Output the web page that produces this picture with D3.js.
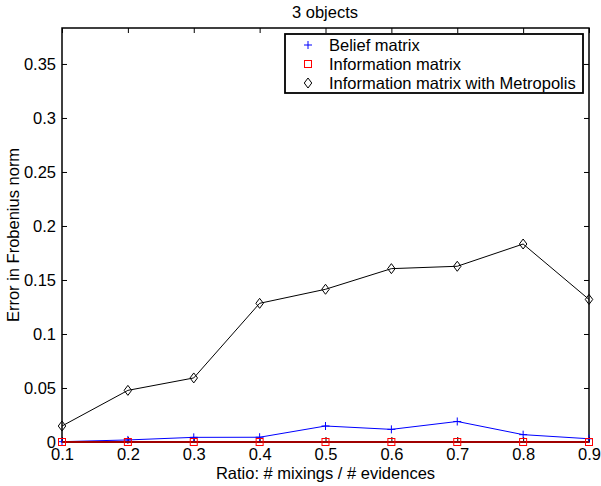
<!DOCTYPE html>
<html><head><meta charset="utf-8">
<script src="https://cdn.jsdelivr.net/npm/d3@7"></script>
<style>body{margin:0;background:#fff}svg{display:block}text{font-family:"Liberation Sans",Arial,Helvetica,sans-serif}</style>
</head><body>
<svg id="c" width="601" height="486"></svg>
<script>
const ratios = [0.1,0.2,0.3,0.4,0.5,0.6,0.7,0.8,0.9];
const beliefMatrix = [0.0003,0.0019,0.0043,0.0044,0.0148,0.0117,0.019,0.0068,0.003];
const informationMatrix = [0,0,0,0,0,0,0,0,0];
const informationMetropolis = [0.0148,0.0478,0.0593,0.1284,0.1414,0.1605,0.1627,0.1833,0.132];
const xTicks = [0.1,0.2,0.3,0.4,0.5,0.6,0.7,0.8,0.9];
const yTicks = [0,0.05,0.1,0.15,0.2,0.25,0.3,0.35];
const legendLabels = ["Belief matrix","Information matrix","Information matrix with Metropolis"];
const title = "3 objects", xLabel = "Ratio: # mixings / # evidences", yLabel = "Error in Frobenius norm";

const svg = d3.select("#c");
const L=62,R=589,T=28,B=442, FS="16.5px";
const x = d3.scaleLinear().domain([0.1,0.9]).range([L,R]);
const y = d3.scaleLinear().domain([0,0.3833]).range([B,T]);

// ticks inward on all sides
const g = svg.append("g");
g.append("g").attr("transform",`translate(0,${B})`).call(d3.axisBottom(x).tickValues(xTicks).tickSizeInner(-5).tickSizeOuter(0).tickPadding(6).tickFormat(d3.format("")));
g.append("g").attr("transform",`translate(0,${T})`).call(d3.axisTop(x).tickValues(xTicks).tickSizeInner(-5).tickSizeOuter(0).tickFormat(""));
g.append("g").attr("transform",`translate(${L},0)`).call(d3.axisLeft(y).tickValues(yTicks).tickSizeInner(-5).tickSizeOuter(0).tickPadding(6).tickFormat(d3.format("")));
g.append("g").attr("transform",`translate(${R},0)`).call(d3.axisRight(y).tickValues(yTicks).tickSizeInner(-5).tickSizeOuter(0).tickFormat(""));
g.selectAll(".domain").remove();
g.selectAll(".tick line").attr("stroke","#000").attr("stroke-width",1);
g.selectAll(".tick text").attr("font-size",FS).attr("fill","#000").style("font-family",'"Liberation Sans",Arial,sans-serif');
svg.append("rect").attr("x",L).attr("y",T).attr("width",R-L).attr("height",B-T).attr("fill","none").attr("stroke","#000").attr("stroke-width",1.5);

const line = d3.line().x((d,i)=>x(ratios[i])).y(d=>y(d));
const diamond = s=>`M0,${-s}L${s*0.75},0L0,${s}L${-s*0.75},0Z`;

// Metropolis
svg.append("path").attr("d",line(informationMetropolis)).attr("fill","none").attr("stroke","#000").attr("stroke-width",1);
svg.selectAll(".dm").data(informationMetropolis).enter().append("path")
  .attr("transform",(d,i)=>`translate(${x(ratios[i])},${y(d)})`).attr("d",diamond(5))
  .attr("fill","none").attr("stroke","#000").attr("stroke-width",1);
// Belief
svg.append("path").attr("d",line(beliefMatrix)).attr("fill","none").attr("stroke","#0000ff").attr("stroke-width",1);
svg.selectAll(".bp").data(beliefMatrix).enter().append("path")
  .attr("transform",(d,i)=>`translate(${x(ratios[i])},${y(d)})`).attr("d","M-4,0H4M0,-4V4")
  .attr("fill","none").attr("stroke","#0000ff").attr("stroke-width",1);
// Information
svg.append("path").attr("d",line(informationMatrix)).attr("fill","none").attr("stroke","#a00000").attr("stroke-width",2);
svg.selectAll(".sq").data(informationMatrix).enter().append("rect")
  .attr("x",(d,i)=>x(ratios[i])-3.5).attr("y",d=>y(d)-3.5).attr("width",7).attr("height",7)
  .attr("fill","none").attr("stroke","#ff0000").attr("stroke-width",1);

// Legend
const lg = svg.append("g");
lg.append("rect").attr("x",285).attr("y",34).attr("width",298).attr("height",59).attr("fill","#fff").attr("stroke","#000").attr("stroke-width",1.8);
const rowsY=[45,64,83], mx=308;
lg.append("path").attr("transform",`translate(${mx},${rowsY[0]})`).attr("d","M-4,0H4M0,-4V4").attr("stroke","#0000ff").attr("fill","none");
lg.append("rect").attr("x",mx-3.5).attr("y",rowsY[1]-3.5).attr("width",7).attr("height",7).attr("stroke","#ff0000").attr("fill","none");
lg.append("path").attr("transform",`translate(${mx},${rowsY[2]})`).attr("d",diamond(5)).attr("stroke","#000").attr("fill","none");
lg.selectAll("text.l").data(legendLabels).enter().append("text").attr("x",329).attr("y",(d,i)=>rowsY[i]).attr("dy","0.35em")
  .attr("font-size",FS).text(d=>d);

svg.append("text").attr("x",325).attr("y",18).attr("text-anchor","middle").attr("font-size",FS).text(title);
svg.append("text").attr("x",(L+R)/2).attr("y",479).attr("text-anchor","middle").attr("font-size",FS).text(xLabel);
svg.append("text").attr("transform",`translate(19,${(T+B)/2}) rotate(-90)`).attr("text-anchor","middle").attr("font-size",FS).text(yLabel);
</script>
</body></html>
